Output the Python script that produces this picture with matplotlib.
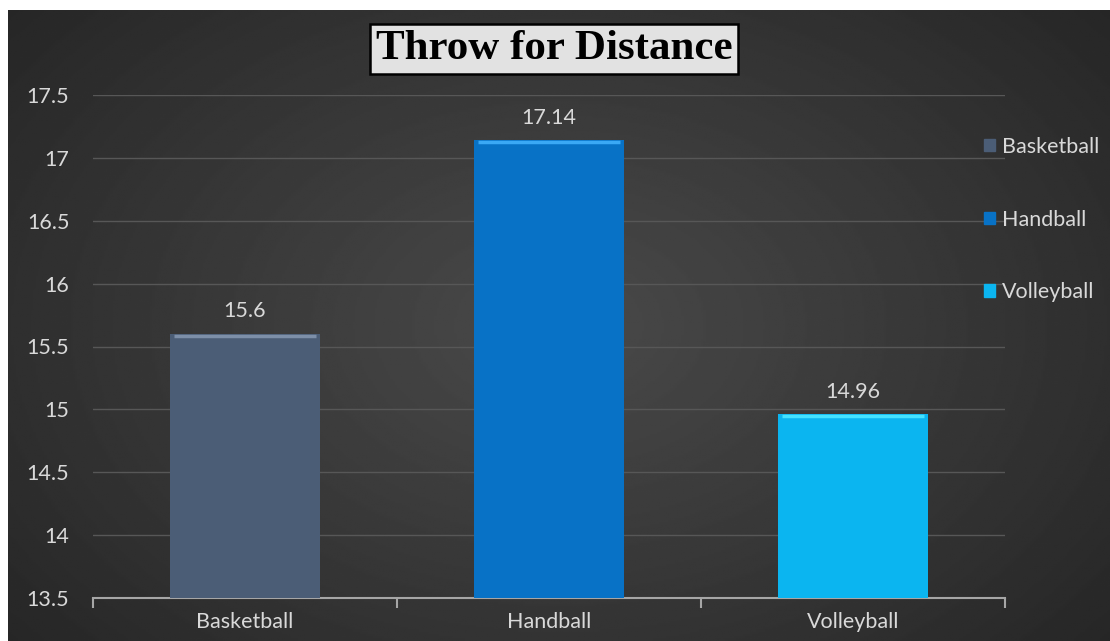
import numpy as np
import matplotlib
matplotlib.use('Agg')
import matplotlib.pyplot as plt
from matplotlib.patches import Patch

# data
sports = ['Basketball', 'Handball', 'Volleyball']
distance = [15.6, 17.14, 14.96]
bar_colors = ['#4b5d76', '#0872c6', '#0bb5f0']
top_colors = ['#7d8fa8', '#3aa8f5', '#45e2ff']
y_ticks = [13.5, 14, 14.5, 15, 15.5, 16, 16.5, 17, 17.5]

plt.rcParams['font.family'] = ['Lato', 'DejaVu Sans']
txt = '#d9d9d9'
fs = 15.5

fig = plt.figure(figsize=(11.1, 6.41), dpi=100)
fig.patch.set_facecolor('white')

# dark radial background
bg = fig.add_axes([8 / 1110, 0, 1 - 8 / 1110, 631 / 641])
yy, xx = np.mgrid[0:1:300j, 0:1:500j]
r = np.sqrt(((xx - 0.5) / 0.75) ** 2 + ((yy - 0.5) / 0.9) ** 2)
shade = 0.29 - 0.16 * np.clip(r, 0, 1)
bg.imshow(shade, cmap='gray', vmin=0, vmax=1, aspect='auto', extent=[0, 1, 0, 1])
bg.axis('off')

ax = fig.add_axes([93 / 1110, 43 / 641, 912 / 1110, 503 / 641])
ax.patch.set_alpha(0)
x = np.arange(len(sports))
bars = ax.bar(x, distance, width=0.495, bottom=0, color=bar_colors, zorder=3)
# bevel highlight on top of bars
for xi, v, c in zip(x, distance, top_colors):
    ax.plot([xi - 0.235, xi + 0.235], [v - 0.015, v - 0.015], color=c, lw=2.5, zorder=4,
            solid_capstyle='butt')
ax.set_ylim(13.5, 17.5)
ax.set_xlim(-0.5, 2.5)
ax.set_yticks(y_ticks)
ax.set_yticklabels([f'{t:g}' for t in y_ticks])
ax.yaxis.grid(True, color='#575757', lw=1, zorder=0)
ax.set_axisbelow(True)
for s in ['top', 'right', 'left']:
    ax.spines[s].set_visible(False)
ax.spines['bottom'].set_color('#a6a6a6')
ax.spines['bottom'].set_linewidth(1.5)
ax.set_xticks(x)
ax.set_xticklabels(sports)
ax.set_xticks([-0.5, 0.5, 1.5, 2.5], minor=True)
ax.tick_params(axis='x', which='major', length=0, pad=10, labelsize=fs, labelcolor=txt)
ax.tick_params(axis='x', which='minor', length=7, width=1.5, color='#a6a6a6', direction='out')
ax.tick_params(axis='y', length=0, pad=17, labelsize=fs, labelcolor=txt)

for xi, v in zip(x, distance):
    ax.annotate(f'{v:g}', (xi, v), xytext=(0, 9), textcoords='offset points',
                ha='center', va='bottom', fontsize=fs, color=txt)

handles = [Patch(facecolor=c, edgecolor=c) for c in bar_colors]
leg = fig.legend(handles, sports, loc='upper left', bbox_to_anchor=(973 / 1110, 1 - 126 / 641),
                 frameon=False, fontsize=fs, labelcolor=txt, handlelength=0.5,
                 handleheight=0.5, handletextpad=0.35, labelspacing=2.45, borderpad=0)

fig.text(554 / 1110, 1 - 49 / 641, 'Throw for Distance', ha='center', va='center',
         fontsize=31, fontweight='bold', family='Liberation Serif', color='black',
         bbox=dict(boxstyle='square,pad=0.13', facecolor='#e2e2e2', edgecolor='black', lw=1.8))

fig.savefig('out.png', dpi=100)
